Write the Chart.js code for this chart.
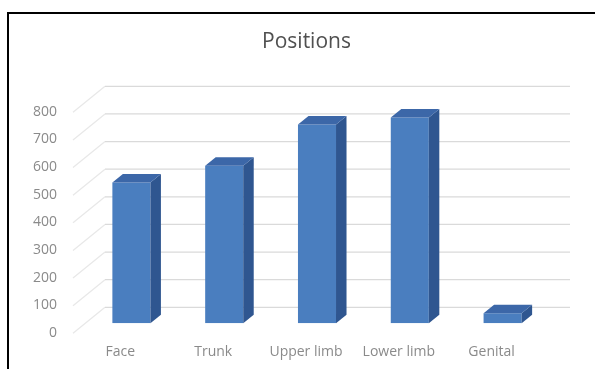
<!DOCTYPE html>
<html>
<head>
<meta charset="utf-8">
<script src="https://cdn.jsdelivr.net/npm/chart.js@4/dist/chart.umd.min.js"></script>
<style>
  html, body { margin: 0; padding: 0; background: #fff; overflow: hidden; }
  #frame {
    position: absolute; left: 7px; top: 12px; width: 700px; height: 500px;
    border-top: 2px solid #000; border-left: 2px solid #000;
  }
  #chart { position: absolute; left: 0; top: 0; }
</style>
</head>
<body>
<div id="frame"></div>
<canvas id="chart" width="595" height="369"></canvas>
<script>
// data
const categories = ['Face', 'Trunk', 'Upper limb', 'Lower limb', 'Genital'];
const counts = [510, 570, 720, 745, 36];
const yMin = 0, yMax = 800, yStep = 100;

const FRONT = '#4a7ebf', SIDE = '#2f5690', TOP = '#3c67a8';
const LABEL_GREY = '#8a8a8a';

// floor / walls drawn behind the bars (fake 3d like the excel column chart)
const wallPlugin = {
  id: 'walls',
  beforeDatasetsDraw(chart) {
    const ctx = chart.ctx, y = chart.scales.y, a = chart.chartArea;
    ctx.save();
    ctx.lineWidth = 1.3;
    for (let v = yMin; v <= yMax; v += yStep) {
      const py = y.getPixelForValue(v);
      // left side wall
      ctx.strokeStyle = '#e8e8e8';
      ctx.beginPath();
      ctx.moveTo(a.left - 12, py + 10);
      ctx.lineTo(a.left + 20, py - 16);
      ctx.stroke();
      // back wall
      ctx.strokeStyle = '#dadada';
      ctx.beginPath();
      ctx.moveTo(a.left + 20, py - 16);
      ctx.lineTo(a.right + 21, py - 16);
      ctx.stroke();
    }
    ctx.restore();
  }
};

// side and top faces of each column
const depthPlugin = {
  id: 'depth',
  afterDatasetsDraw(chart) {
    const ctx = chart.ctx;
    const dx = 10.5, dy = -8.5;
    chart.getDatasetMeta(0).data.forEach(bar => {
      const {x, y, base, width} = bar.getProps(['x', 'y', 'base', 'width'], true);
      const l = x - width / 2, r = x + width / 2;
      ctx.save();
      ctx.fillStyle = SIDE;
      ctx.beginPath();
      ctx.moveTo(r, y);
      ctx.lineTo(r + dx, y + dy);
      ctx.lineTo(r + dx, base + dy);
      ctx.lineTo(r, base);
      ctx.closePath();
      ctx.fill();
      ctx.fillStyle = TOP;
      ctx.beginPath();
      ctx.moveTo(l, y);
      ctx.lineTo(l + dx, y + dy);
      ctx.lineTo(r + dx, y + dy);
      ctx.lineTo(r, y);
      ctx.closePath();
      ctx.fill();
      ctx.restore();
    });
  }
};

new Chart(document.getElementById('chart'), {
  type: 'bar',
  data: {
    labels: categories,
    datasets: [{
      data: counts,
      backgroundColor: FRONT,
      borderWidth: 0,
      categoryPercentage: 1,
      barPercentage: 0.41
    }]
  },
  options: {
    responsive: false,
    animation: false,
    devicePixelRatio: 1,
    layout: { padding: { left: 64, right: 46, top: 10, bottom: 5.7 } },
    plugins: {
      legend: { display: false },
      tooltip: { enabled: false },
      title: {
        display: true,
        text: 'Positions',
        color: '#505050',
        font: { family: 'Open Sans', size: 21, weight: 'normal' },
        padding: { top: 19.4, bottom: 47.7 }
      }
    },
    scales: {
      x: {
        grid: { display: false, drawTicks: false },
        border: { display: false },
        afterFit(s) { s.height = 40; },
        ticks: {
          color: LABEL_GREY,
          font: { family: 'Open Sans', size: 14 },
          padding: 20,
          labelOffset: -11,
          autoSkip: false,
          maxRotation: 0
        }
      },
      y: {
        min: yMin,
        max: yMax,
        grid: { display: false, drawTicks: false },
        border: { display: false },
        afterFit(s) { s.width = 21; },
        ticks: {
          stepSize: yStep,
          color: LABEL_GREY,
          font: { family: 'Open Sans', size: 14 },
          // mirrored so the labels are not clipped to the narrow axis box;
          // negative padding pulls them back out to the left of the walls
          mirror: true,
          crossAlign: 'far',
          padding: -52,
          labelOffset: 9.5
        }
      }
    }
  },
  plugins: [wallPlugin, depthPlugin]
});
</script>
</body>
</html>
